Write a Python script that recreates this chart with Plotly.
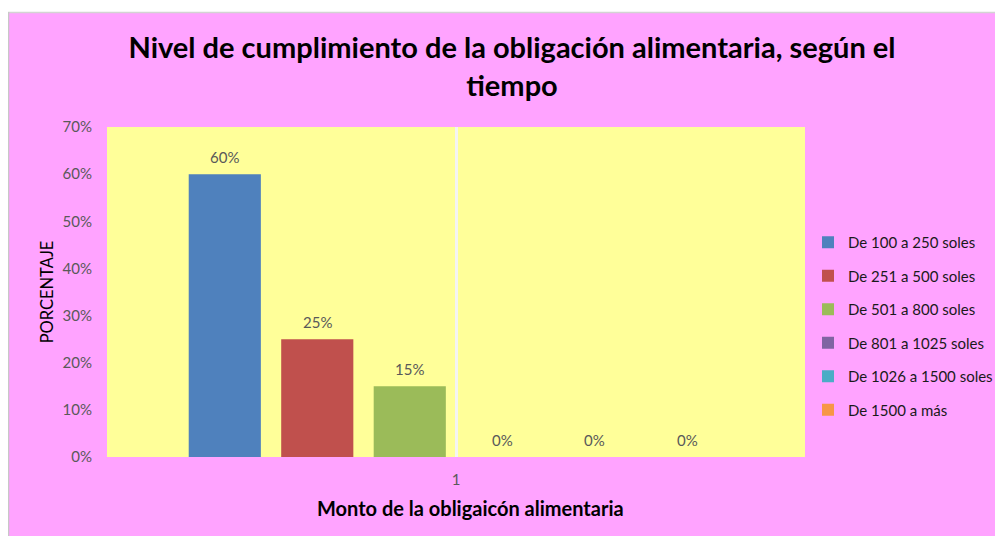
import plotly.graph_objects as go

categories = ["1"]
series_names = ["De 100 a 250 soles", "De 251 a 500 soles", "De 501 a 800 soles",
                "De 801 a 1025 soles", "De 1026 a 1500 soles", "De 1500 a más"]
series_values = [0.60, 0.25, 0.15, 0.0, 0.0, 0.0]
series_colors = ["#4F81BD", "#C0504D", "#9BBB59", "#8064A2", "#4BACC6", "#F79646"]
y_ticks = [0, 0.1, 0.2, 0.3, 0.4, 0.5, 0.6, 0.7]
x_title = "Monto de la obligaicón alimentaria"

FONT = "Lato"
# page has an 8px body margin, so the figure is 8px smaller than the window
W, H = 995, 528
L, R, T, B = 99, 198, 119, 79
pw, ph = W - L - R, H - T - B
def px_x(p):
    return (p - L) / pw
def px_y(p):
    return (H - B - p) / ph

BARGAP = 0.205
slot_px = (1 - BARGAP) * pw / len(series_names)

fig = go.Figure()
for i, (name, val, col) in enumerate(zip(series_names, series_values, series_colors)):
    fig.add_trace(go.Bar(
        x=categories, y=[val], name=name, legendgroup=name,
        marker=dict(color=col, line=dict(width=0)),
    ))
    fig.add_annotation(x=0, y=val, xref="x", yref="y",
                       text=f"{val:.0%}", showarrow=False,
                       xshift=(i - (len(series_names) - 1) / 2) * slot_px,
                       yshift=17, yanchor="middle",
                       font=dict(family=FONT, size=15, color="#595959"))

# x-axis title (placed slightly right of the axis centre, as in the reference)
fig.add_annotation(x=px_x(462), y=px_y(500), xref="paper", yref="paper",
                   text=f"<b>{x_title}</b>", showarrow=False,
                   xanchor="center", yanchor="middle",
                   font=dict(family=FONT, size=20, color="black"))

fig.add_shape(type="rect", xref="paper", yref="paper",
              x0=px_x(-2), x1=px_x(W + 2), y0=px_y(4), y1=px_y(-2),
              fillcolor="white", line=dict(width=0), layer="below")
fig.add_shape(type="line", xref="paper", yref="paper",
              x0=px_x(0), x1=px_x(W + 2), y0=px_y(4.5), y1=px_y(4.5),
              line=dict(color="#D4D4D4", width=1.5), layer="below")
fig.add_shape(type="line", xref="paper", yref="paper",
              x0=px_x(0.5), x1=px_x(0.5), y0=px_y(H + 2), y1=px_y(4),
              line=dict(color="#C8C8C8", width=1.5), layer="below")

fig.update_layout(
    width=W, height=H,
    margin=dict(l=L, r=R, t=T, b=B, autoexpand=False),
    paper_bgcolor="#FFA3FF", plot_bgcolor="#FFFF99",
    barmode="group", bargap=BARGAP, bargroupgap=0.22,
    title=dict(text="<b>Nivel de cumplimiento de la obligación alimentaria, según el<br>tiempo</b>",
               x=504 / W, xanchor="center", y=1 - 50 / H, yanchor="top",
               font=dict(family=FONT, size=29, color="black")),
    legend=dict(x=px_x(800), y=px_y(218), xanchor="left", yanchor="top",
                font=dict(family=FONT, size=15, color="#1A1A1A"),
                bgcolor="rgba(0,0,0,0)", tracegroupgap=11, itemwidth=30),
    showlegend=True,
    font=dict(family=FONT),
)
fig.update_xaxes(type="category", range=[-0.5, 0.5], showgrid=True, gridcolor="#F4F4F4",
                 gridwidth=2.5, showline=False, ticks="", ticklabelstandoff=12,
                 tickfont=dict(family=FONT, size=15, color="#595959"))
fig.update_yaxes(range=[0, 0.7], tickvals=y_ticks, tickformat=".0%", showgrid=False,
                 zeroline=False, ticks="", ticklabelstandoff=14,
                 tickfont=dict(family=FONT, size=15, color="#595959"),
                 title=dict(text="PORCENTAJE", font=dict(family=FONT, size=16.5, color="black"), standoff=4))

fig.write_html("out.html")
